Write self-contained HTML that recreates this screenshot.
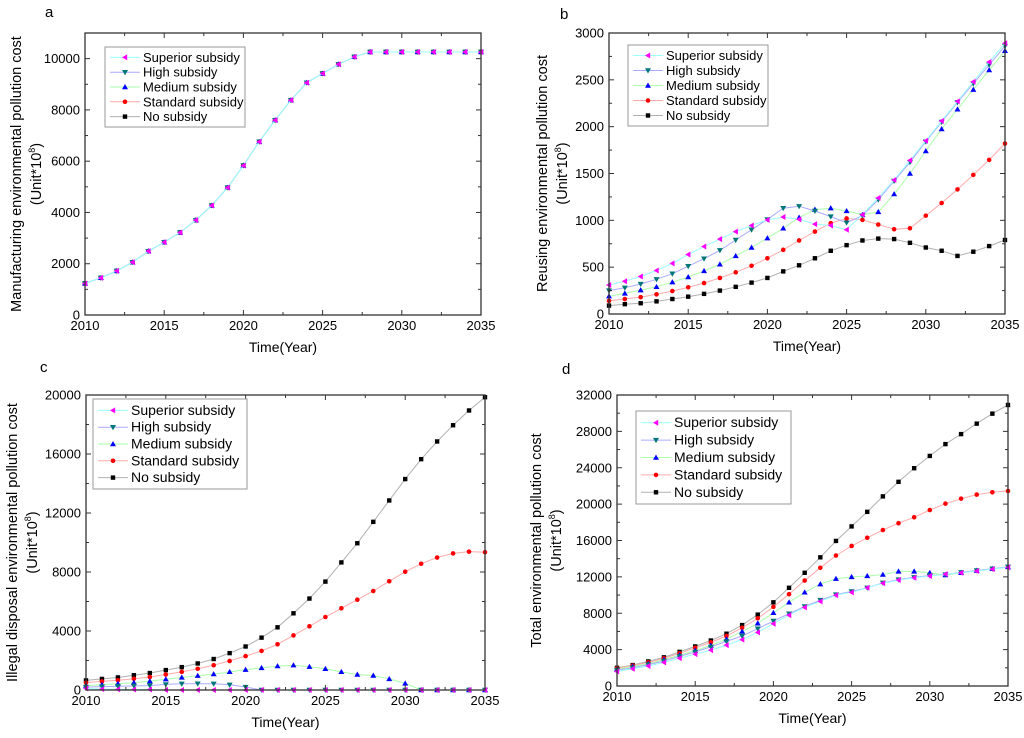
<!DOCTYPE html>
<html><head><meta charset="utf-8">
<style>
html,body{margin:0;padding:0;background:#fff;}
svg{display:block;font-family:"Liberation Sans",Arial,sans-serif;}
</style></head>
<body>
<svg id="fig" width="1024" height="738" viewBox="0 0 1024 738" xmlns="http://www.w3.org/2000/svg"></svg>
<script>
const years = [2010,2011,2012,2013,2014,2015,2016,2017,2018,2019,2020,2021,2022,2023,2024,2025,2026,2027,2028,2029,2030,2031,2032,2033,2034,2035];
const seriesNames = ["Superior subsidy","High subsidy","Medium subsidy","Standard subsidy","No subsidy"];
const xTicks = [2010,2015,2020,2025,2030,2035];

// Panel a
const aSuperior = [1230,1450,1720,2060,2490,2840,3220,3700,4270,4970,5830,6760,7600,8380,9060,9420,9780,10070,10260,10260,10260,10260,10260,10260,10260,10260];
const aHigh = aSuperior.slice();
const aMedium = aSuperior.slice();
const aStandard = aSuperior.slice();
const aNo = aSuperior.slice();
const aYTicks = [0,2000,4000,6000,8000,10000];

// Panel b
const bSuperior = [310,350,400,465,540,635,720,800,880,945,1005,1035,1010,960,945,900,1060,1240,1430,1640,1850,2060,2270,2480,2690,2890];
const bHigh = [250,280,320,370,430,510,590,680,790,900,1010,1130,1150,1100,1040,975,1050,1220,1420,1620,1840,2050,2260,2460,2660,2860];
const bMedium = [190,220,255,290,340,395,460,530,620,710,810,915,1030,1115,1130,1100,1060,1090,1280,1500,1740,1975,2185,2395,2605,2810];
const bStandard = [140,160,180,210,245,285,330,385,445,515,595,685,785,880,970,1020,1005,955,905,915,1050,1185,1330,1485,1645,1820];
const bNo = [90,105,115,135,160,185,215,250,290,335,385,455,520,595,675,735,785,805,800,760,710,675,620,665,725,790];
const bYTicks = [0,500,1000,1500,2000,2500,3000];

// Panel c
const cSuperior = [100,60,40,30,30,0,0,0,0,0,0,0,0,0,0,0,0,0,0,0,0,0,0,0,0,0];
const cHigh = [200,220,250,280,300,380,420,430,420,350,200,0,0,0,0,0,0,0,0,0,0,0,0,0,0,0];
const cMedium = [300,360,430,500,600,730,850,970,1080,1230,1380,1500,1620,1680,1580,1440,1230,1050,980,750,450,0,0,0,0,0];
const cStandard = [500,580,660,760,880,1050,1230,1440,1680,1970,2300,2650,3100,3700,4320,4950,5540,6120,6710,7370,8020,8560,8980,9260,9380,9340];
const cNo = [650,750,850,1000,1150,1350,1550,1800,2100,2500,2950,3550,4250,5200,6200,7350,8650,9950,11400,12850,14300,15650,16850,17950,18950,19850];
const cYTicks = [0,4000,8000,12000,16000,20000];

// Panel d
const dSuperior = [1600,1900,2200,2600,3050,3500,3950,4500,5100,5900,6850,7800,8650,9300,10000,10300,10800,11300,11650,11900,12100,12300,12450,12650,12850,13050];
const dHigh = [1750,2000,2350,2750,3250,3750,4300,4900,5500,6300,7150,7950,8750,9450,10050,10400,10800,11350,11700,11950,12150,12250,12500,12700,12900,13100];
const dMedium = [1850,2150,2450,2900,3400,3900,4450,5150,6000,6900,8050,9200,10300,11200,11800,12000,12100,12250,12600,12600,12450,12200,12450,12700,12900,13100];
const dStandard = [1950,2250,2600,3050,3600,4200,4800,5500,6400,7450,8700,10100,11600,13000,14350,15400,16300,17150,17900,18550,19350,20050,20600,21050,21300,21450];
const dNo = [2000,2300,2700,3150,3750,4350,5000,5750,6700,7850,9200,10800,12450,14150,15950,17550,19150,20850,22450,23950,25300,26600,27700,28850,29950,30900];
const dYTicks = [0,4000,8000,12000,16000,20000,24000,28000,32000];

const styles = [
  {line:"#99ffff", mk:"#ff00ff", shape:"left"},
  {line:"#aaaaff", mk:"#007777", shape:"down"},
  {line:"#aaffaa", mk:"#0000ff", shape:"up"},
  {line:"#ffaaaa", mk:"#ff0000", shape:"circle"},
  {line:"#b0b0b0", mk:"#000000", shape:"square"}
];

const NS = "http://www.w3.org/2000/svg";
const svg = document.getElementById("fig");
function mk(tag, attrs, parent, text){
  const e = document.createElementNS(NS, tag);
  for (const k in attrs) e.setAttribute(k, attrs[k]);
  if (text !== undefined) e.textContent = text;
  (parent || svg).appendChild(e);
  return e;
}
function marker(g, shape, x, y, color){
  let e;
  if (shape === "circle") e = mk("circle",{cx:x,cy:y,r:2.3,fill:color},g);
  else if (shape === "square") e = mk("rect",{x:x-2.2,y:y-2.2,width:4.4,height:4.4,fill:color},g);
  else {
    let p;
    if (shape === "up") p = [[x,y-3],[x-3,y+2.2],[x+3,y+2.2]];
    else if (shape === "down") p = [[x,y+3],[x-3,y-2.2],[x+3,y-2.2]];
    else p = [[x-3,y],[x+2.2,y-3],[x+2.2,y+3]];
    e = mk("polygon",{points:p.map(q=>q.join(",")).join(" "),fill:color},g);
  }
  return e;
}

function panel(cfg){
  const {id,L,R,T,B,yMax,yTicks,data,letter,lx,ly,title1,leg} = cfg;
  const g = mk("g",{});
  
  
  const xs = v => L + (v-2010)/25*(R-L);
  const ys = v => B - v/yMax*(B-T);

  const lt = mk("text",{x:lx,y:ly,"font-size":15,fill:"#000"},g,letter);
  
  

  // series (drawn from No subsidy up to Superior so Superior is on top)
  for (let s = 4; s >= 0; s--){
    const sg = mk("g",{},g);
    
    
    const pts = years.map((yr,i)=>xs(yr).toFixed(1)+","+ys(data[s][i]).toFixed(1)).join(" ");
    mk("polyline",{points:pts,fill:"none",stroke:styles[s].line,"stroke-width":1},sg);
    years.forEach((yr,i)=>{
      const m = marker(sg, styles[s].shape, xs(yr), ys(data[s][i]), styles[s].mk);
      
      
    });
  }

  // frame
  const fr = mk("rect",{x:L,y:T,width:R-L,height:B-T,fill:"none",stroke:"#333","stroke-width":1.3},g);
  
  

  // x ticks
  const xg = mk("g",{},g);
  
  
  xTicks.forEach(t=>{
    const x = xs(t);
    mk("line",{x1:x,y1:B,x2:x,y2:B-5,stroke:"#333"},xg);
    mk("line",{x1:x,y1:T,x2:x,y2:T+5,stroke:"#333"},xg);
    mk("text",{x:x,y:B+15,"font-size":13,"text-anchor":"middle",fill:"#000"},xg,String(t));
  });
  for (let t = 2012.5; t < 2035; t += 5){
    const x = xs(t);
    mk("line",{x1:x,y1:B,x2:x,y2:B-3,stroke:"#333"},xg);
    mk("line",{x1:x,y1:T,x2:x,y2:T+3,stroke:"#333"},xg);
  }
  const xt = mk("text",{x:(L+R)/2,y:B+37,"font-size":14,"text-anchor":"middle",fill:"#000"},g,"Time(Year)");
  
  

  // y ticks
  const yg = mk("g",{},g);
  
  
  const step = yTicks[1]-yTicks[0];
  yTicks.forEach(t=>{
    const y = ys(t);
    mk("line",{x1:L,y1:y,x2:L+5,y2:y,stroke:"#333"},yg);
    mk("line",{x1:R,y1:y,x2:R-5,y2:y,stroke:"#333"},yg);
    mk("text",{x:L-5,y:y+4.5,"font-size":13,"text-anchor":"end",fill:"#000"},yg,String(t));
  });
  for (let t = step/2; t < yMax; t += step){
    const y = ys(t);
    mk("line",{x1:L,y1:y,x2:L+3,y2:y,stroke:"#333"},yg);
    mk("line",{x1:R,y1:y,x2:R-3,y2:y,stroke:"#333"},yg);
  }
  const cy = (T+B)/2;
  const yt = mk("text",{x:0,y:0,"font-size":14.5,"text-anchor":"middle",fill:"#000",transform:`translate(${cfg.tx1},${cy}) rotate(-90)`},g,title1);
  
  
  const yt2 = mk("text",{x:0,y:0,"font-size":14.5,"text-anchor":"middle",fill:"#000",transform:`translate(${cfg.tx2},${cy}) rotate(-90)`},g);
  
  
  yt2.appendChild(document.createTextNode("(Unit*10"));
  mk("tspan",{"font-size":9,dy:-6},yt2,"8");
  mk("tspan",{dy:6},yt2,")");

  // legend
  const lg = mk("g",{},g);
  
  
  mk("rect",{x:leg.x,y:leg.y,width:leg.w,height:leg.h,fill:"#fff",stroke:"#999","stroke-width":1},lg);
  const rh = (leg.h-6)/5;
  for (let s = 0; s < 5; s++){
    const eg = mk("g",{},lg);
    
    
    const y = leg.y + 3 + rh*(s+0.5);
    mk("line",{x1:leg.x+5,y1:y,x2:leg.x+35,y2:y,stroke:styles[s].line},eg);
    marker(eg, styles[s].shape, leg.x+20, y, styles[s].mk);
    mk("text",{x:leg.x+38,y:y+4.5,"font-size":leg.fs,fill:"#000"},eg,seriesNames[s]);
  }
}

panel({id:"a",L:85,R:481,T:33,B:315,yMax:11000,yTicks:aYTicks,data:[aSuperior,aHigh,aMedium,aStandard,aNo],
  letter:"a",lx:45,ly:17,title1:"Manufacturing environmental pollution cost",tx1:21,tx2:41,
  leg:{x:105,y:47,w:140,h:80,fs:13}});
panel({id:"b",L:609,R:1005,T:33,B:314,yMax:3000,yTicks:bYTicks,data:[bSuperior,bHigh,bMedium,bStandard,bNo],
  letter:"b",lx:560,ly:19,title1:"Reusing environmental pollution cost",tx1:547,tx2:567,
  leg:{x:628,y:45,w:140,h:81,fs:13}});
panel({id:"c",L:86,R:485,T:395,B:690,yMax:20000,yTicks:cYTicks,data:[cSuperior,cHigh,cMedium,cStandard,cNo],
  letter:"c",lx:40,ly:372,title1:"Illegal disposal environmental pollution cost",tx1:17,tx2:37,
  leg:{x:93,y:399,w:154,h:90,fs:14}});
panel({id:"d",L:617,R:1008,T:395,B:686,yMax:32000,yTicks:dYTicks,data:[dSuperior,dHigh,dMedium,dStandard,dNo],
  letter:"d",lx:562,ly:374,title1:"Total environmental pollution cost",tx1:541,tx2:561,
  leg:{x:636,y:411,w:155,h:93,fs:14}});
</script>
</body></html>
